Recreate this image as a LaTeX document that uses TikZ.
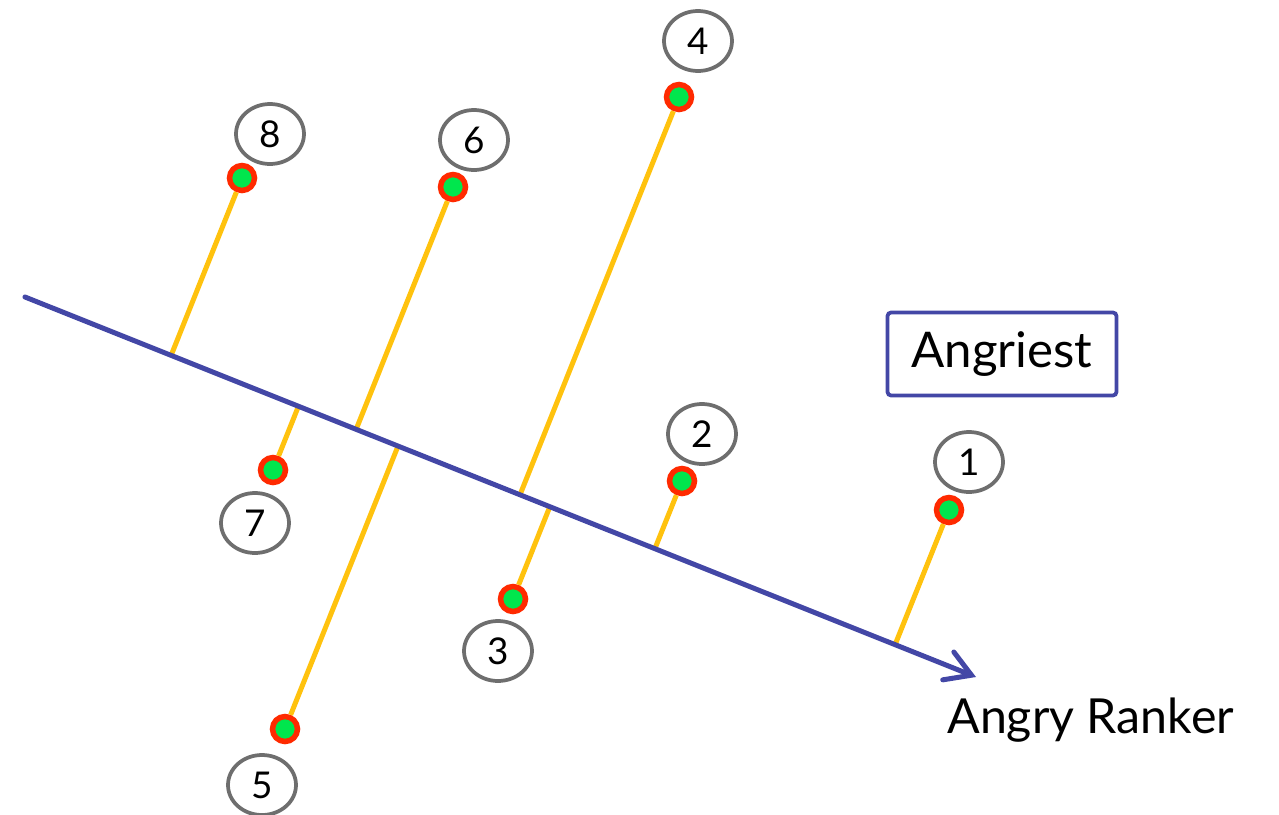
\documentclass[tikz,border=0pt]{standalone}
\usepackage{fontspec}
\setmainfont{Lato}
\usetikzlibrary{positioning, calc, arrows.meta, shapes.geometric}
\definecolor{Axis}{HTML}{4347A6}
\definecolor{Proj}{HTML}{FFC20E}
\definecolor{Ring}{HTML}{FF2A00}
\definecolor{Fill}{HTML}{00E64D}
\definecolor{Tag}{HTML}{6E6E6E}
\tikzset{
    dotnode/.style={circle, draw=Ring, fill=Fill, line width=0.11cm, minimum size=0.5cm, inner sep=0pt},
    tagnode/.style={ellipse, draw=Tag, line width=0.075cm, minimum width=1.36cm, minimum height=1.2cm, inner sep=0pt, font=\fontsize{21}{25}\selectfont},
    projline/.style={Proj, line width=0.1cm},
    axisline/.style={-{Straight Barb[length=0.5cm, width=0.6cm, line cap=round]}, Axis, line width=0.1cm, line cap=round},
    boxnode/.style={rectangle, rounded corners=2pt, draw=Axis, line width=0.075cm, minimum width=4.58cm, minimum height=1.66cm, font=\fontsize{28}{34}\selectfont},
}
\begin{document}
\begin{tikzpicture}[x=0.02cm, y=-0.02cm]
                \useasboundingbox (0,0) rectangle (1279,815);
                % Axis ends
                \coordinate (ax0) at (25,297);
                \coordinate (ax1) at (976,677);

                % Points with their tags
                \foreach \i/\px/\py/\tx/\ty in {1/949/510/969/462, 2/682/481/702/434, 3/513/599/498/651, 4/679/97/698/41,
                                                5/285/729/262/785, 6/453/187/474/140, 7/273/470/255/523, 8/242/178/270/134} {
                    \node[dotnode] (p\i) at (\px,\py) {};
                    \node[tagnode] (t\i) at (\tx,\ty) {\i};
                }

                % Projections onto the axis
                \foreach \i in {1,...,8}
                    \draw[projline] ($(ax0)!(p\i)!(ax1)$) -- (p\i);

                % Axis
                \draw[axisline] (ax0) -- (ax1);

                % Labels
                \node[boxnode] (top) at (1002,354) {Angriest};
                \node[font=\fontsize{27.5}{33}\selectfont, anchor=base west, inner sep=0pt] (axname) at (947,733) {Angry Ranker};
            \end{tikzpicture}
\end{document}
